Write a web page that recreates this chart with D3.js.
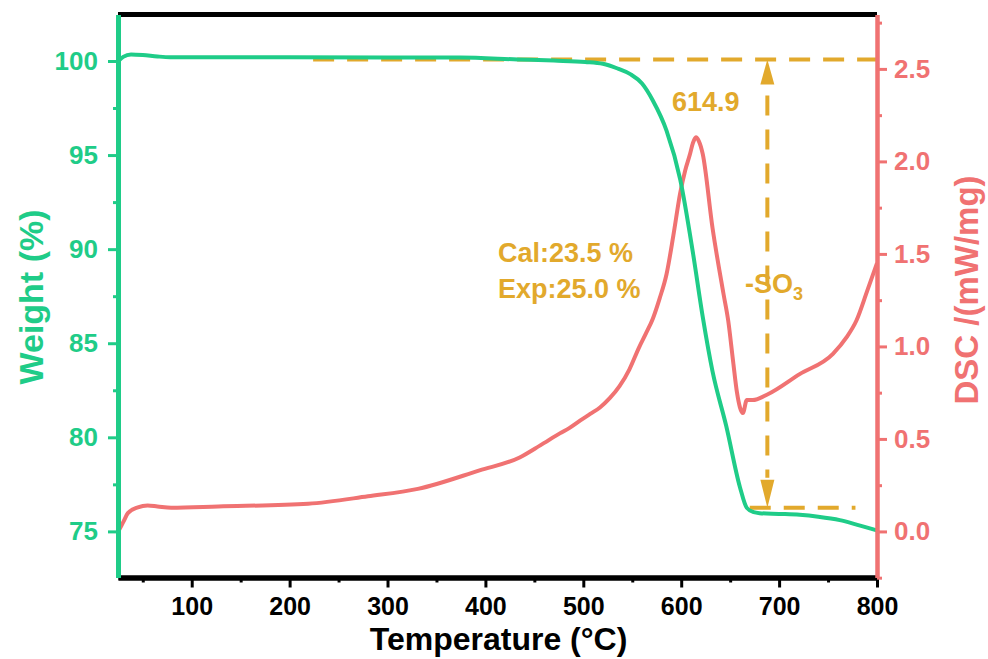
<!DOCTYPE html>
<html>
<head>
<meta charset="utf-8">
<script src="https://cdn.jsdelivr.net/npm/d3@7"></script>
<style>
  body { margin: 0; background: #fff; }
  svg text { font-family: "Liberation Sans", Arial, sans-serif; font-weight: bold; }
</style>
</head>
<body>
<svg id="svg"></svg>
<script>
// TGA curve (weight %)
const tgaTemp = [25, 30, 38, 50, 65, 78, 100, 200, 300, 374, 433, 470, 502, 520, 535, 548, 560, 571, 585, 599, 612, 622, 632, 646, 660, 667, 674, 680, 700, 721, 740, 762, 780, 800];
const tgaWeight = [100.0, 100.22, 100.35, 100.32, 100.24, 100.2, 100.2, 100.2, 100.19, 100.18, 100.08, 100.02, 99.95, 99.85, 99.6, 99.3, 98.8, 97.9, 96.3, 93.7, 89.8, 86.4, 83.5, 80.6, 77.35, 76.25, 76.02, 75.97, 75.93, 75.88, 75.78, 75.6, 75.35, 75.05];

// DSC curve (mW/mg)
const dscTemp = [25, 30, 35, 45, 55, 65, 79, 127, 219, 280, 331, 394, 435, 456, 476, 486, 497, 507, 517, 527, 537, 547, 557, 564, 571, 578, 585, 592, 599, 604, 609, 612, 615, 618, 622, 632, 643, 648, 653, 657, 663, 667, 673, 688, 721, 755, 769, 779, 790, 800];
const dscValue = [0.0, 0.05, 0.1, 0.13, 0.14, 0.135, 0.128, 0.135, 0.15, 0.19, 0.23, 0.33, 0.40, 0.465, 0.53, 0.56, 0.6, 0.635, 0.67, 0.72, 0.785, 0.875, 0.995, 1.07, 1.15, 1.26, 1.39, 1.6, 1.83, 1.95, 2.04, 2.1, 2.13, 2.11, 2.04, 1.64, 1.29, 1.14, 0.92, 0.75, 0.64, 0.71, 0.71, 0.74, 0.85, 0.96, 1.05, 1.14, 1.3, 1.45];

// ticks
const xTicks = [100, 200, 300, 400, 500, 600, 700, 800];
const weightTicks = [75, 80, 85, 90, 95, 100];
const dscTicks = [0.0, 0.5, 1.0, 1.5, 2.0, 2.5];

// annotation values
const peakTemp = 614.9;
const lossTop = 100.08, lossBottom = 76.26, lossTemp = 688;

const green = '#1fcc88', red = '#f07272', gold = '#e2a92c';

const width = 988, height = 659;
const margin = {top: 14.5, right: 111, bottom: 81.5, left: 118};

const svg = d3.select('#svg').attr('width', width).attr('height', height);

const x = d3.scaleLinear().domain([24.7, 800]).range([margin.left, width - margin.right]);
const yW = d3.scaleLinear().domain([72.55, 102.47]).range([height - margin.bottom, margin.top]);
const yD = d3.scaleLinear().domain([-0.249, 2.794]).range([height - margin.bottom, margin.top]);

// dashed guide lines
const dash = svg.append('g').attr('stroke', gold).attr('stroke-width', 4).attr('fill', 'none');
dash.append('line')
  .attr('x1', x(224)).attr('x2', x(800))
  .attr('y1', yW(lossTop)).attr('y2', yW(lossTop))
  .attr('stroke-dasharray', '21,13');
dash.append('line')
  .attr('x1', x(670)).attr('x2', x(778))
  .attr('y1', yW(lossBottom)).attr('y2', yW(lossBottom))
  .attr('stroke-dasharray', '21,13');

// double arrow
const ax = x(lossTemp), yTop = yW(lossTop), yBot = yW(lossBottom);
dash.append('line')
  .attr('x1', ax).attr('x2', ax)
  .attr('y1', yTop + 36).attr('y2', yBot - 30)
  .attr('stroke-dasharray', '20,14');
svg.append('path')
  .attr('fill', gold)
  .attr('d', `M${ax},${yTop} L${ax - 7},${yTop + 25} L${ax + 7},${yTop + 25} Z`);
svg.append('path')
  .attr('fill', gold)
  .attr('d', `M${ax},${yBot} L${ax - 7},${yBot - 28} L${ax + 7},${yBot - 28} Z`);

// curves
const tga = tgaTemp.map((t, i) => [t, tgaWeight[i]]);
const dsc = dscTemp.map((t, i) => [t, dscValue[i]]);

svg.append('path')
  .datum(dsc)
  .attr('fill', 'none').attr('stroke', red).attr('stroke-width', 4)
  .attr('d', d3.line().x(d => x(d[0])).y(d => yD(d[1])).curve(d3.curveMonotoneX));

svg.append('path')
  .datum(tga)
  .attr('fill', 'none').attr('stroke', green).attr('stroke-width', 4)
  .attr('d', d3.line().x(d => x(d[0])).y(d => yW(d[1])).curve(d3.curveMonotoneX));

// top frame line
svg.append('line')
  .attr('x1', margin.left).attr('x2', width - margin.right)
  .attr('y1', margin.top).attr('y2', margin.top)
  .attr('stroke', '#000').attr('stroke-width', 5);

// axes
function styleAxis(g, color, size, fs) {
  g.select('.domain').attr('stroke', color).attr('stroke-width', size);
  g.selectAll('.tick line').attr('stroke', color).attr('stroke-width', 3);
  g.selectAll('.tick text').attr('fill', color).style('font-size', fs || '26px');
}

const minorX = d3.range(50, 801, 100);
svg.append('g')
  .attr('transform', `translate(0,${height - margin.bottom})`)
  .call(d3.axisBottom(x).tickValues(minorX).tickSize(5).tickSizeOuter(0).tickFormat(''))
  .call(g => styleAxis(g, '#000', 5));
svg.append('g')
  .attr('transform', `translate(0,${height - margin.bottom})`)
  .call(d3.axisBottom(x).tickValues(xTicks).tickSize(10).tickPadding(10).tickSizeOuter(0).tickFormat(d3.format('d')))
  .call(g => styleAxis(g, '#000', 5, '25px'));

const minorW = [77.5, 82.5, 87.5, 92.5, 97.5];
svg.append('g')
  .attr('transform', `translate(${margin.left},0)`)
  .call(d3.axisLeft(yW).tickValues(minorW).tickSize(5).tickSizeOuter(0).tickFormat(''))
  .call(g => styleAxis(g, green, 5));
svg.append('g')
  .attr('transform', `translate(${margin.left},0)`)
  .call(d3.axisLeft(yW).tickValues(weightTicks).tickSize(10).tickPadding(10).tickSizeOuter(0).tickFormat(d3.format('d')))
  .call(g => styleAxis(g, green, 5));

const minorD = [-0.25, 0.25, 0.75, 1.25, 1.75, 2.25, 2.75];
svg.append('g')
  .attr('transform', `translate(${width - margin.right},0)`)
  .call(d3.axisRight(yD).tickValues(minorD).tickSize(5).tickSizeOuter(0).tickFormat(''))
  .call(g => styleAxis(g, red, 4));
svg.append('g')
  .attr('transform', `translate(${width - margin.right},0)`)
  .call(d3.axisRight(yD).tickValues(dscTicks).tickSize(10).tickPadding(7).tickSizeOuter(0).tickFormat(d3.format('.1f')))
  .call(g => styleAxis(g, red, 4));

// axis titles
svg.append('text')
  .attr('x', (margin.left + width - margin.right) / 2 + 1).attr('y', 650)
  .attr('text-anchor', 'middle').attr('fill', '#000')
  .style('font-size', '32px')
  .text('Temperature (°C)');

svg.append('text')
  .attr('transform', 'translate(43,297) rotate(-90)')
  .attr('text-anchor', 'middle').attr('fill', green)
  .style('font-size', '34px')
  .text('Weight (%)');

svg.append('text')
  .attr('transform', 'translate(978,290) rotate(-90)')
  .attr('text-anchor', 'middle').attr('fill', red)
  .style('font-size', '33px')
  .text('DSC /(mW/mg)');

// annotations
svg.append('text')
  .attr('x', x(peakTemp) + 10).attr('y', 111)
  .attr('text-anchor', 'middle').attr('fill', gold)
  .style('font-size', '27px')
  .text(peakTemp.toFixed(1));

svg.append('text')
  .attr('x', 498).attr('y', 262)
  .attr('fill', gold).style('font-size', '27px')
  .text('Cal:23.5 %');
svg.append('text')
  .attr('x', 498).attr('y', 298)
  .attr('fill', gold).style('font-size', '27px')
  .text('Exp:25.0 %');

const so3 = svg.append('text')
  .attr('x', 745).attr('y', 293)
  .attr('fill', gold).style('font-size', '27px');
so3.append('tspan').text('-SO');
so3.append('tspan').attr('dy', 7).style('font-size', '18px').text('3');
</script>
</body>
</html>
